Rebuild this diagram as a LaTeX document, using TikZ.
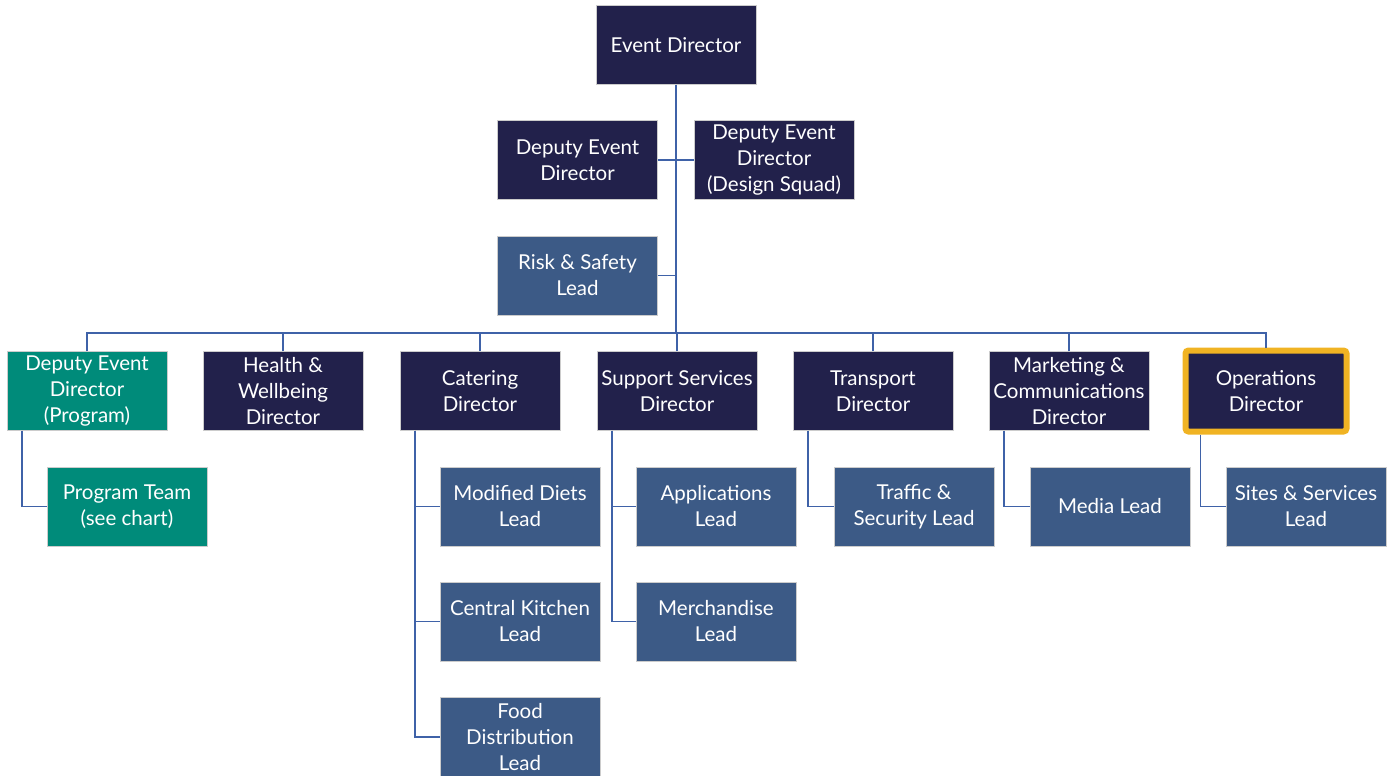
\documentclass[tikz,border=0pt]{standalone}
\usepackage{fontspec}
\setmainfont{Lato}
\definecolor{navy}{RGB}{34,33,75}
\definecolor{midblue}{RGB}{60,90,134}
\definecolor{teal2}{RGB}{0,139,122}
\definecolor{linec}{RGB}{63,98,168}
\definecolor{gold}{RGB}{240,179,35}
\begin{document}
\begin{tikzpicture}[x=1pt,y=-1pt,
  box/.style={minimum width=160pt,minimum height=79pt,inner sep=0pt,text=white,align=center,
    font=\fontsize{20.5}{26}\selectfont,draw=white!80!black,line width=0.4pt},
  dir/.style={box,fill=navy},
  lead/.style={box,fill=midblue},
  prog/.style={box,fill=teal2},
  conn/.style={draw=linec,line width=1.5pt}]
\useasboundingbox (0,0) rectangle (1398,776);
% top
\node[dir] (ed) at (676,45) {Event Director};
\node[dir] (ded) at (577.5,160) {Deputy Event\\Director};
\node[dir] (dds) at (774,160) {Deputy Event\\Director\\(Design Squad)};
\node[lead] (risk) at (577.5,275.5) {Risk \& Safety\\Lead};
% level 2
\node[prog] (dep) at (87,391) {Deputy Event\\Director\\(Program)};
\node[dir] (hw) at (283,391) {Health \&\\Wellbeing\\Director};
\node[dir] (cat) at (480,391) {Catering\\Director};
\node[dir] (ss) at (677,391) {Support Services\\Director};
\node[dir] (tr) at (873,391) {Transport\\Director};
\node[dir] (mc) at (1069,391) {Marketing \&\\Communications\\Director};
\node[dir,draw=gold,line width=6pt,rounded corners=3pt,minimum width=161pt,minimum height=81pt] (op) at (1266,391) {Operations\\Director};
% level 3
\node[prog] (pt) at (127,506.5) {Program Team\\(see chart)};
\node[lead] (md) at (520,506.5) {Modified Diets\\Lead};
\node[lead] (app) at (716,506.5) {Applications\\Lead};
\node[lead] (ts) at (914,506.5) {Traffic \&\\Security Lead};
\node[lead] (ml) at (1110,506.5) {Media Lead};
\node[lead] (sl) at (1306,506.5) {Sites \& Services\\Lead};
% level 4
\node[lead] (ck) at (520,621.5) {Central Kitchen\\Lead};
\node[lead] (mer) at (716,621.5) {Merchandise\\Lead};
% level 5
\node[lead] (fd) at (520,737) {Food\\Distribution\\Lead};
% coordinates
\coordinate (bus) at (676,333);
% trunk
\draw[conn,line width=2pt] (ed.south) -- (bus);
\draw[conn] (ded.east) -- (dds.west);
\draw[conn] (risk.east) -- (risk.east -| bus);
\draw[conn] (dep.north) |- (bus) -| (op.north);
\foreach \n in {hw,cat,ss,tr,mc}{\draw[conn] (\n.north) -- (\n.north |- bus);}
% children
\draw[conn] ([xshift=15pt]dep.south west) |- (pt.west);
\draw[conn] ([xshift=15pt]cat.south west) |- (md.west);
\draw[conn] ([xshift=15pt]cat.south west) |- (ck.west);
\draw[conn] ([xshift=15pt]cat.south west) |- (fd.west);
\draw[conn] ([xshift=15pt]ss.south west) |- (app.west);
\draw[conn] ([xshift=15pt]ss.south west) |- (mer.west);
\draw[conn] ([xshift=15pt]tr.south west) |- (ts.west);
\draw[conn] ([xshift=15pt]mc.south west) |- (ml.west);
\draw[conn] ([xshift=18pt]op.south west) |- (sl.west);
\end{tikzpicture}
\end{document}
